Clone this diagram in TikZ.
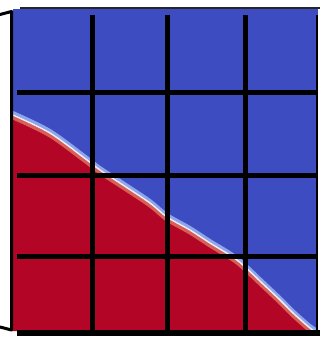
\documentclass[tikz,border=0pt]{standalone}
\usepackage{tikz}
\definecolor{cwblue}{RGB}{61,76,192}
\definecolor{cwred}{RGB}{179,6,38}
\definecolor{cwpale}{RGB}{140,165,235}
\definecolor{cwpink}{RGB}{215,95,85}

\begin{document}
\begin{tikzpicture}[x=1pt, y=-1pt,
  gridline/.style={line width=5pt, black},
  bracket/.style={line width=3pt, black, line cap=round, line join=round},
  fringe/.style={smooth, line cap=round}
]
\useasboundingbox (0,0) rectangle (320,339);
\def\front{(13,115) (50,133) (87,160) (100,170) (123,185) (150,203) (167,217)
  (190,230) (210,243) (237,260) (262,283) (280,300) (293,313) (310,328) (318,333)}

\fill[cwblue] (13,9) rectangle (318,331);
\begin{scope}
  \clip (13,9) rectangle (318,331);
  \fill[cwred] plot[smooth] coordinates {\front} -- (318,331) -- (13,331) -- cycle;
  \draw[fringe, cwpale, line width=3pt, yshift=2.5pt] plot[smooth] coordinates {\front};
  \draw[fringe, cwpink, line width=4pt, yshift=-2.5pt] plot[smooth] coordinates {\front};
  \draw[fringe, white!90!cwblue, line width=1.5pt] plot[smooth] coordinates {\front};
\end{scope}

\foreach \gx in {92.5,167.5,245.5}
  \draw[gridline] (\gx,15) -- (\gx,331);
\foreach \gy in {92.5,175,256}
  \draw[gridline] (17,\gy) -- (318,\gy);
\draw[line width=2pt, black] (317,15) -- (317,331);
\draw[line width=2pt, black!85] (20,8.5) -- (320,8.5);
\draw[line width=6pt, black] (17,333) -- (320,333);

\draw[bracket] (0,14.5) -- (11.5,11.5) -- (11.5,330) -- (0,327);
\end{tikzpicture}
\end{document}
